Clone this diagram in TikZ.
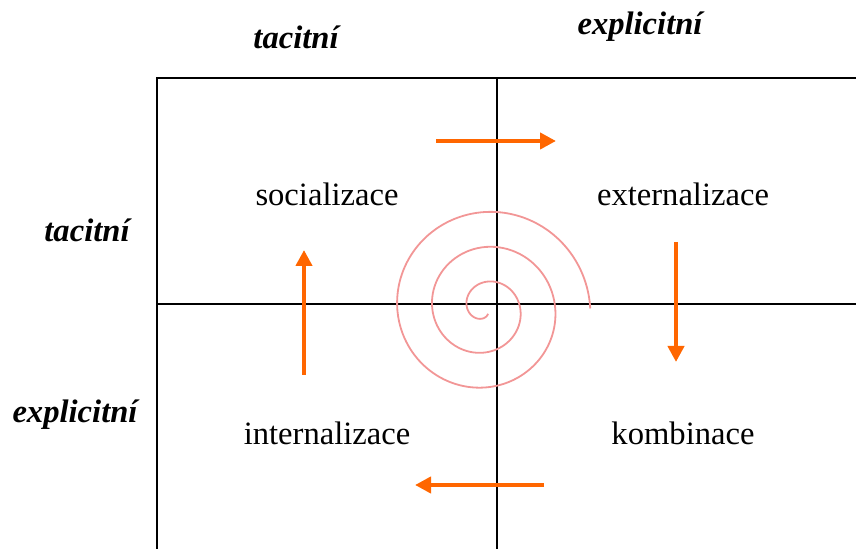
\documentclass[tikz,border=0pt]{standalone}
\usepackage{fontspec}
\setmainfont{Liberation Serif}
\usetikzlibrary{arrows.meta, positioning}
\definecolor{SECIorange}{RGB}{255,102,0}
\definecolor{SECIpink}{RGB}{242,150,150}

\begin{document}
\begin{tikzpicture}[>={Triangle[length=8pt,width=8pt]}, x=0.5pt, y=-0.5pt,
    font=\fontsize{16.3}{19}\selectfont,
    axislabel/.style={font=\fontsize{16.3}{19}\selectfont\bfseries\itshape},
    flow/.style={->, SECIorange, line width=2pt}]
      \useasboundingbox (0,0) rectangle (856,549);
      % Grid
      \draw[line width=1pt] (157,549) -- (157,78) -- (856,78);
      \draw[line width=1pt] (497,78) -- (497,549);
      \draw[line width=1pt] (157,304) -- (856,304);
      % Spiral
      \draw[SECIpink, line width=0.9pt] plot[domain=300:-720, samples=260, smooth]
        ({485+(35.25-0.0972*\x)*cos(\x)}, {308.5-(35.25-0.0972*\x)*sin(\x)});
      % Axis labels
      \node[axislabel] (toptacit) at (296,37) {tacitní};
      \node[axislabel] (topexpl) at (640,27) {explicitní};
      \node[axislabel] (lefttacit) at (87,230) {tacitní};
      \node[axislabel] (leftexpl) at (75,415) {explicitní};
      % Quadrants
      \node (soc) at (327,194) {socializace};
      \node (ext) at (683,194) {externalizace};
      \node (int) at (327,433) {internalizace};
      \node (komb) at (683,433) {kombinace};
      % Flow arrows
      \coordinate (socA) at (436,141);
      \coordinate (extA) at (556,141);
      \coordinate (extB) at (676,242);
      \coordinate (kombB) at (676,362);
      \coordinate (kombC) at (544,485);
      \coordinate (intC) at (415,485);
      \coordinate (intD) at (304,375);
      \coordinate (socD) at (304,250);
      \draw[flow] (socA) -- (extA);
      \draw[flow] (extB) -- (kombB);
      \draw[flow] (kombC) -- (intC);
      \draw[flow] (intD) -- (socD);
    \end{tikzpicture}
\end{document}
